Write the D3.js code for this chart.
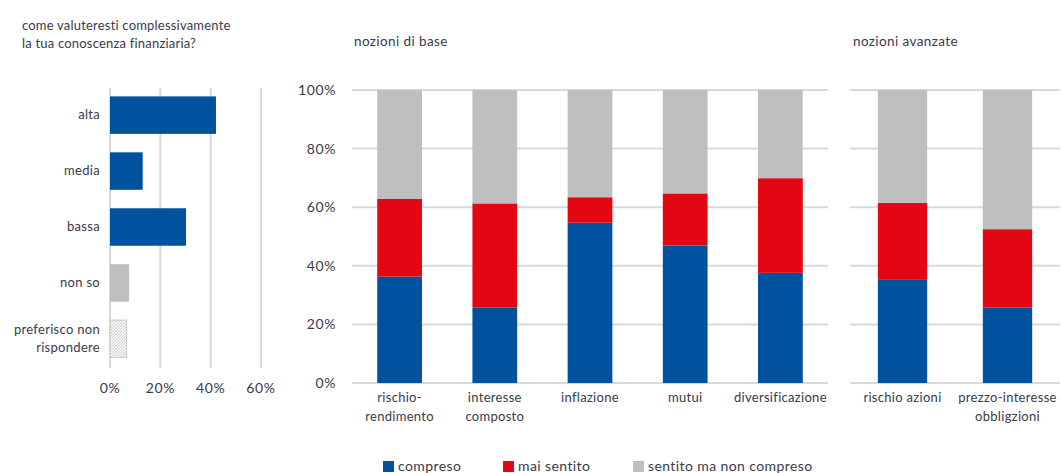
<!DOCTYPE html>
<html><head><meta charset="utf-8">
<script src="https://cdn.jsdelivr.net/npm/d3@7"></script>
<style>body{margin:0;background:#fff}svg{display:block}text{font-family:Lato,"Liberation Sans",sans-serif;fill:#3a3a4a}</style>
</head><body>
<script>
// Left chart
const knowCats = ["alta","media","bassa","non so","preferisco non\nrispondere"];
const knowVals = [42.1, 13.0, 30.2, 7.6, 6.6];
const knowTicks = [0,20,40,60];
// Stacked charts
const baseCats = ["rischio-\nrendimento","interesse\ncomposto","inflazione","mutui","diversificazione"];
const advCats = ["rischio azioni","prezzo-interesse\nobbligzioni"];
const seriesNames = ["compreso","mai sentito","sentito ma non compreso"];
const baseCompreso = [36.3, 25.7, 54.7, 46.9, 37.6];
const baseMai = [26.5, 35.6, 8.7, 17.8, 32.3];
const baseSentito = [37.2, 38.7, 36.6, 35.3, 30.1];
const advCompreso = [35.2, 25.8];
const advMai = [26.3, 26.7];
const advSentito = [38.5, 47.5];
const yTicks = [0,20,40,60,80,100];

const colors = {"compreso":"#00519E","mai sentito":"#E30613","sentito ma non compreso":"#BFBFBF"};
const grid = "#D9D9D9";

const svg = d3.select("body").append("svg").attr("width",1061).attr("height",473);
const defs = svg.append("defs");
const pat = defs.append("pattern").attr("id","dots").attr("width",3).attr("height",3).attr("patternUnits","userSpaceOnUse");
pat.append("rect").attr("width",3).attr("height",3).attr("fill","#f4f4f4");
pat.append("path").attr("d","M0,3L3,0").attr("stroke","#c8c8c8").attr("stroke-width",0.8);

function multiline(sel, lh){
  sel.each(function(d){
    const t = d3.select(this); const lines = String(d).split("\n");
    t.text(null);
    lines.forEach((l,i)=>t.append("tspan").attr("x",t.attr("x")).attr("dy", i===0? 0 : lh).text(l));
  });
}

// Title
svg.append("text").attr("x",22).attr("y",30).style("font-size","13px").style("letter-spacing","0.2px").text("come valuteresti complessivamente");
svg.append("text").attr("x",22).attr("y",48).style("font-size","13px").style("letter-spacing","0.2px").text("la tua conoscenza finanziaria?");

// Left bar chart
const lx = d3.scaleLinear().domain([0,60]).range([110,261]);
const ly = d3.scaleBand().domain(knowCats).range([88,366]).paddingInner(0.33).paddingOuter(0.15);
const L = svg.append("g");
L.selectAll("line.g").data(knowTicks).join("line")
  .attr("x1",d=>lx(d)).attr("x2",d=>lx(d)).attr("y1",88).attr("y2",368)
  .attr("stroke",grid).attr("stroke-width",2);
L.selectAll("rect").data(knowCats).join("rect")
  .attr("x",lx(0)).attr("y",d=>ly(d)).attr("height",ly.bandwidth())
  .attr("width",(d,i)=>lx(knowVals[i])-lx(0))
  .attr("fill",(d,i)=> i<3 ? colors["compreso"] : (i===3 ? "#BFBFBF" : "url(#dots)"))
  .attr("stroke",(d,i)=> i===4 ? "#c8c8c8":"none");
L.selectAll("text.tick").data(knowTicks).join("text")
  .attr("x",d=>lx(d)).attr("y",393).attr("text-anchor","middle").style("font-size","14px").style("letter-spacing","0.6px").text(d=>d+"%");
L.selectAll("text.cat").data(knowCats).join("text")
  .attr("x",100).attr("text-anchor","end").style("font-size","13px").style("letter-spacing","0.3px")
  .attr("y",d=>{const n=d.split("\n").length; return ly(d)+ly.bandwidth()/2+4-(n-1)*9;})
  .call(multiline,18);

// Stacked chart helper
function stacked(cats, comp, mai, sent, x0, x1, title, titleX, showY){
  const rows = cats.map((c,i)=>({cat:c,"compreso":comp[i],"mai sentito":mai[i],"sentito ma non compreso":sent[i]}));
  const stack = d3.stack().keys(seriesNames)(rows);
  const x = d3.scaleBand().domain(cats).range([x0,x1]).paddingInner(0.53).paddingOuter(0.265);
  const y = d3.scaleLinear().domain([0,100]).range([383,90]);
  const g = svg.append("g");
  g.selectAll("line").data(yTicks).join("line")
    .attr("x1",x0).attr("x2",x1).attr("y1",d=>y(d)).attr("y2",d=>y(d))
    .attr("stroke",grid).attr("stroke-width",2);
  g.selectAll("g.s").data(stack).join("g").attr("fill",d=>colors[d.key])
    .selectAll("rect").data(d=>d).join("rect")
    .attr("x",d=>x(d.data.cat)).attr("width",x.bandwidth())
    .attr("y",d=>y(Math.min(100,d[1]))).attr("height",d=>y(d[0])-y(Math.min(100,d[1])));
  if(showY){
    g.selectAll("text.y").data(yTicks).join("text")
      .attr("x",336).attr("y",d=>y(d)+5).attr("text-anchor","end").style("font-size","14px").style("letter-spacing","0.6px").text(d=>d+"%");
  }
  g.selectAll("text.c").data(cats).join("text")
    .attr("x",d=>x(d)+x.bandwidth()/2).attr("y",402).attr("text-anchor","middle").style("font-size","13px").style("letter-spacing","0.3px")
    .call(multiline,19);
  svg.append("text").attr("x",titleX).attr("y",46).style("font-size","13.5px").style("letter-spacing","0.4px").text(title);
}
stacked(baseCats, baseCompreso, baseMai, baseSentito, 352, 828, "nozioni di base", 354, true);
stacked(advCats, advCompreso, advMai, advSentito, 850, 1060, "nozioni avanzate", 853, false);

// Legend
const legX = [383, 503, 633];
const lg = svg.append("g");
seriesNames.forEach((s,i)=>{
  lg.append("rect").attr("x",legX[i]).attr("y",461).attr("width",11).attr("height",11).attr("fill",colors[s]);
  lg.append("text").attr("x",legX[i]+15).attr("y",471).style("font-size","14px").style("letter-spacing","0.4px").text(s);
});
</script>
</body></html>
